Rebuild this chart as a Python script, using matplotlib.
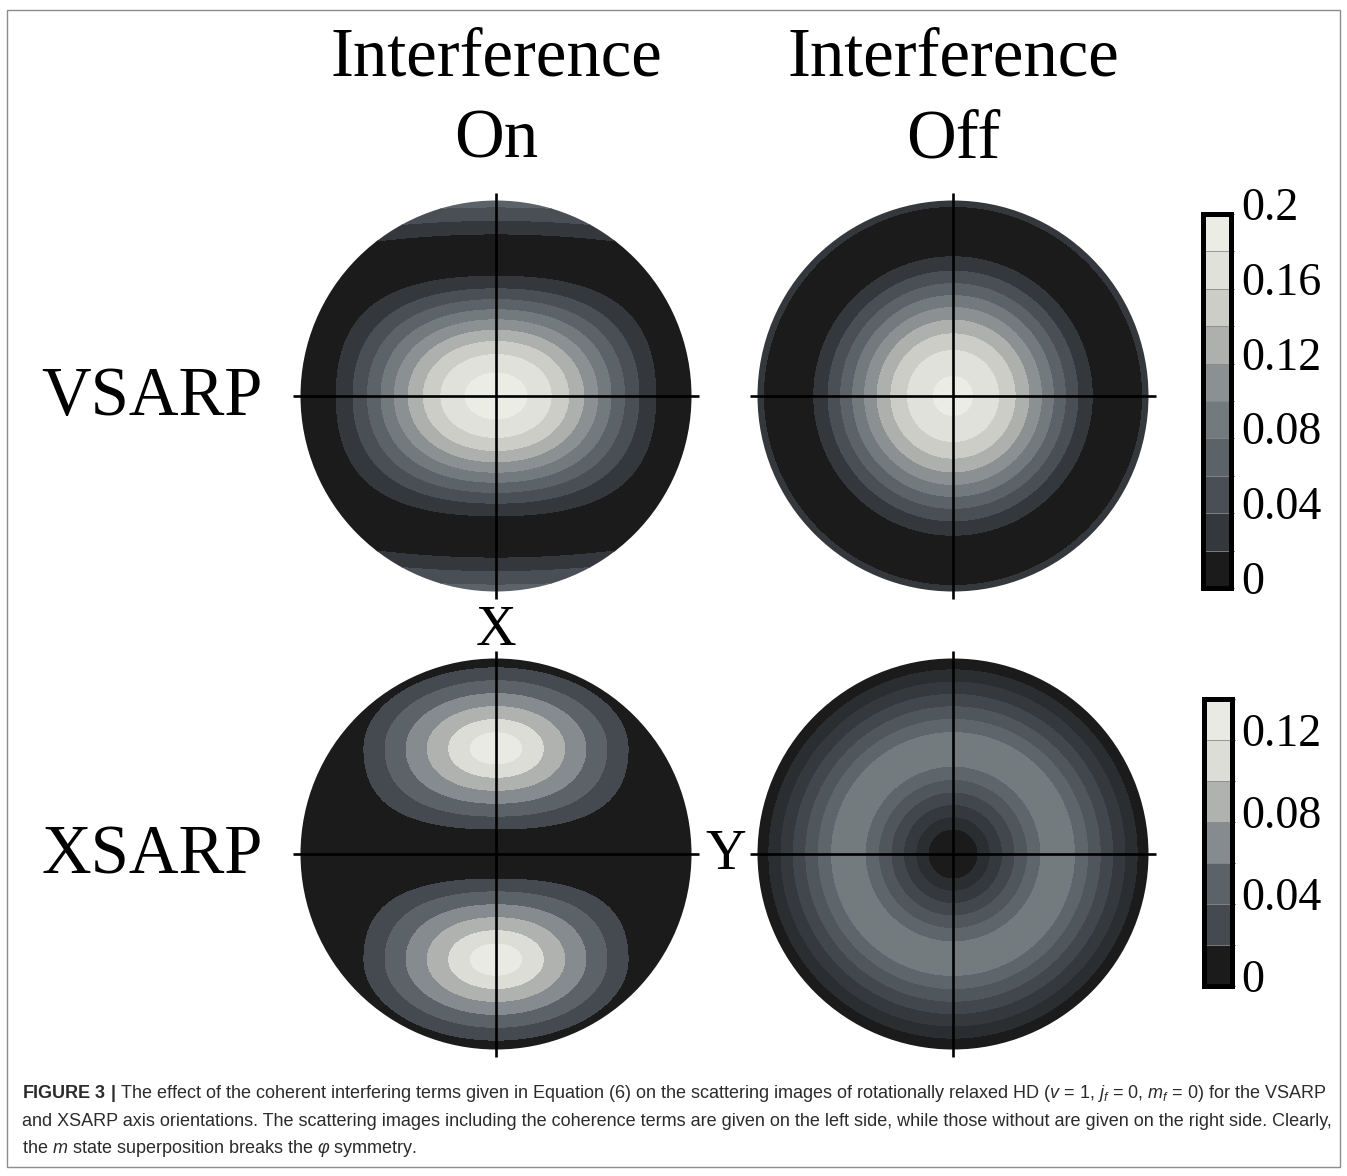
import numpy as np
import matplotlib
matplotlib.use("Agg")
import matplotlib.pyplot as plt
from matplotlib import font_manager
from matplotlib.patches import Circle, Rectangle
from matplotlib.colors import ListedColormap, BoundaryNorm
from matplotlib.cm import ScalarMappable
import matplotlib.transforms as mtransforms

# ---------------------------------------------------------------- data
# contour levels and band colours of the two colour scales
TOP_LEVELS = [0.0, 0.02, 0.04, 0.06, 0.08, 0.10, 0.12, 0.14, 0.16, 0.18, 0.20]
TOP_COLORS = ['#1b1b1b', '#34383c', '#4a4f55', '#5b6268', '#737a7d',
              '#8b9092', '#aeb0ae', '#cccdc7', '#e0e1da', '#ebece4']
TOP_TICKS = [0.0, 0.04, 0.08, 0.12, 0.16, 0.2]
TOP_TICKLABELS = ['0', '0.04', '0.08', '0.12', '0.16', '0.2']

BOTTOM_LEVELS = [0.0, 0.02, 0.04, 0.06, 0.08, 0.10, 0.12, 0.14]
BOTTOM_COLORS = ['#1b1b1b', '#454a50', '#5b6268', '#858b8e',
                 '#b0b2b0', '#dcddd6', '#e9eae3']
BOTTOM_TICKS = [0.0, 0.04, 0.08, 0.12]
BOTTOM_TICKLABELS = ['0', '0.04', '0.08', '0.12']

# the incoherent XSARP image is drawn with finer contours
XOFF_LEVELS = [0.0, 0.01, 0.02, 0.03, 0.04, 0.05, 0.06, 0.07]
XOFF_COLORS = ['#1b1b1b', '#2b2e31', '#35393d', '#41474c',
               '#4f565c', '#5f666b', '#737b7e']

COLUMN_TITLES = ['Interference', 'Interference']
COLUMN_SUBTITLES = ['On', 'Off']
ROW_LABELS = ['VSARP', 'XSARP']

# scattering-image shape parameters (disk radius = 1)
VON_PEAK_AMP, VON_AMP_SLOPE, VON_Y_SCALE = 0.435, 0.44, 0.75   # central lobe
VON_CAP_START, VON_CAP_SLOPE, VON_CAP_XW = 0.76, 0.29, 0.40    # polar caps
VOFF_A, VOFF_NODE, VOFF_POW = 0.39, 0.312, 1.75                # A (c^q - c0)^2
XON_LOBE_Y, XON_Y_SCALE, XON_PEAK, XON_SLOPE = 0.54, 0.61, 0.146, 0.186
XOFF_RING_R, XOFF_PEAK, XOFF_SLOPE = 0.535, 0.076, 0.161

CAPTION = [
    r"$\mathbf{FIGURE\ 3\ |}$ The effect of the coherent interfering terms given in "
    r"Equation (6) on the scattering images of rotationally relaxed HD "
    r"($v$ = 1, $j_f$ = 0, $m_f$ = 0) for the VSARP",
    "and XSARP axis orientations. The scattering images including the coherence "
    "terms are given on the left side, while those without are given on the right "
    "side. Clearly,",
    r"the $m$ state superposition breaks the $\varphi$ symmetry.",
]

# ---------------------------------------------------------------- fonts
available = {f.name for f in font_manager.fontManager.ttflist}
if 'Liberation Sans Narrow' in available:
    CAP_FAMILY, CAP_SIZE = 'Liberation Sans Narrow', 13.9
else:
    CAP_FAMILY, CAP_SIZE = 'Liberation Sans', 12.95
SERIF = ['Liberation Serif', 'DejaVu Serif']
plt.rcParams['mathtext.fontset'] = 'custom'
plt.rcParams['mathtext.rm'] = CAP_FAMILY
plt.rcParams['mathtext.it'] = CAP_FAMILY + ':italic'
plt.rcParams['mathtext.bf'] = CAP_FAMILY + ':bold'

# ---------------------------------------------------------------- fields
n = 900
g = np.linspace(-1.01, 1.01, n)
U, V = np.meshgrid(g, g)
R2 = U ** 2 + V ** 2
COS = np.sqrt(np.clip(1.0 - R2, 0.0, None))


def boxy_radius(x, y, power, blend_end):
    """Elliptic radius that turns into a superellipse further out."""
    r2 = np.hypot(x, y)
    rp = (np.abs(x) ** power + np.abs(y) ** power) ** (1.0 / power)
    w = np.clip(r2 / blend_end, 0.0, 1.0) ** 2
    return r2 + (rp - r2) * w


# VSARP, interference on
rho = boxy_radius(U, V / VON_Y_SCALE, 2.7, 0.95)
core = np.clip(VON_PEAK_AMP - VON_AMP_SLOPE * rho ** 2, 0.0, None) ** 2
rho_c = np.hypot(VON_CAP_XW * U, V)
cap = VON_CAP_SLOPE * np.clip(rho_c - VON_CAP_START, 0.0, None)
F_VON = np.maximum(core, cap)

# VSARP, interference off
F_VOFF = VOFF_A * (COS ** VOFF_POW - VOFF_NODE) ** 2

# XSARP, interference on: two lobes
ly = np.abs(V) - XON_LOBE_Y
Ys = ly / XON_Y_SCALE
rho_round = np.hypot(U, Ys)
rho_flat = boxy_radius(U, Ys, 2.7, 0.8)
rho_l = np.where(ly >= 0, rho_round, rho_flat)
F_XON = np.clip(XON_PEAK - XON_SLOPE * np.sqrt(rho_l ** 2 + 0.05 ** 2), 0.0, None)

# XSARP, interference off: ring
F_XOFF = np.clip(XOFF_PEAK - XOFF_SLOPE *
                 np.sqrt((np.sqrt(R2) - XOFF_RING_R) ** 2 + 0.05 ** 2), 0.0, None)

# ---------------------------------------------------------------- figure
W, H = 1347, 1176
fig = plt.figure(figsize=(W / 100, H / 100), dpi=100)
fig.patch.set_facecolor('white')


def fig_box(x0, y0, x1, y1):
    return [x0 / W, 1 - y1 / H, (x1 - x0) / W, (y1 - y0) / H]


def ftext(x, y, s, **kw):
    return fig.text(x / W, 1 - y / H, s, **kw)


RAD = 195.5
LIM = 1.06
panels = [
    (496, 396, F_VON, TOP_LEVELS, TOP_COLORS),
    (953, 396, F_VOFF, TOP_LEVELS, TOP_COLORS),
    (496, 854, F_XON, BOTTOM_LEVELS, BOTTOM_COLORS),
    (953, 854, F_XOFF, XOFF_LEVELS, XOFF_COLORS),
]
for cx, cy, F, levels, colors in panels:
    ax = fig.add_axes(fig_box(cx - LIM * RAD, cy - LIM * RAD,
                              cx + LIM * RAD, cy + LIM * RAD))
    ax.set_xlim(-LIM, LIM)
    ax.set_ylim(-LIM, LIM)
    ax.axis('off')
    cs = ax.contourf(U, V, F, levels=levels, colors=colors)
    disk = Circle((0, 0), 1.0, transform=ax.transData, facecolor='none',
                  edgecolor='none')
    ax.add_patch(disk)
    cs.set_clip_path(disk)
    ax.plot([-1.04, 1.04], [0, 0], color='black', lw=1.9, solid_capstyle='butt')
    ax.plot([0, 0], [-1.04, 1.04], color='black', lw=1.9, solid_capstyle='butt')

# column titles and row labels
for cx, title, sub in zip([496, 953.5], COLUMN_TITLES, COLUMN_SUBTITLES):
    ftext(cx, 76, title, ha='center', va='baseline', family=SERIF, fontsize=49.5)
    ftext(cx, 158, sub, ha='center', va='baseline', family=SERIF, fontsize=49.5)
for cy, lab in zip([415, 873], ROW_LABELS):
    ftext(263, cy, lab, ha='right', va='baseline', family=SERIF, fontsize=49.5)
ftext(496.5, 645, 'X', ha='center', va='baseline', family=SERIF, fontsize=40.5)
ftext(726, 869, 'Y', ha='center', va='baseline', family=SERIF, fontsize=40.5)

# colour bars
bars = [
    ((1203, 214, 1231, 588), TOP_LEVELS, TOP_COLORS, TOP_TICKS, TOP_TICKLABELS),
    ((1204, 699, 1231.5, 986), BOTTOM_LEVELS, BOTTOM_COLORS, BOTTOM_TICKS,
     BOTTOM_TICKLABELS),
]
for box, levels, colors, ticks, labels in bars:
    cax = fig.add_axes(fig_box(*box))
    sm = ScalarMappable(norm=BoundaryNorm(levels, len(colors)),
                        cmap=ListedColormap(colors))
    cb = fig.colorbar(sm, cax=cax, drawedges=True)
    cb.outline.set_linewidth(3.6)
    cb.outline.set_edgecolor('black')
    cb.dividers.set_color('#8a8a8a')
    cb.dividers.set_linewidth(0.6)
    cax.set_yticks([])
    cax.set_xticks([])
    trans = mtransforms.blended_transform_factory(fig.transFigure, cax.transData)
    trans = trans + mtransforms.ScaledTranslation(0, -6 / 100, fig.dpi_scale_trans)
    for t, lab in zip(ticks, labels):
        cax.text(1241 / W, t, lab, transform=trans, ha='left', va='baseline',
                 family=SERIF, fontsize=33, clip_on=False)

# caption
for i, line in enumerate(CAPTION):
    ftext(22, 1098 + 27.5 * i, line, ha='left', va='baseline',
          family=[CAP_FAMILY, 'DejaVu Sans'], fontsize=CAP_SIZE, color='#2b2b2b')

# outer frame
fig.add_artist(Rectangle((7 / W, 1 - 1167 / H), (1340 - 7) / W, (1167 - 10) / H,
                         transform=fig.transFigure, fill=False,
                         edgecolor='#8c8c8c', linewidth=1.0))

fig.savefig('out.png', dpi=100, facecolor='white')
